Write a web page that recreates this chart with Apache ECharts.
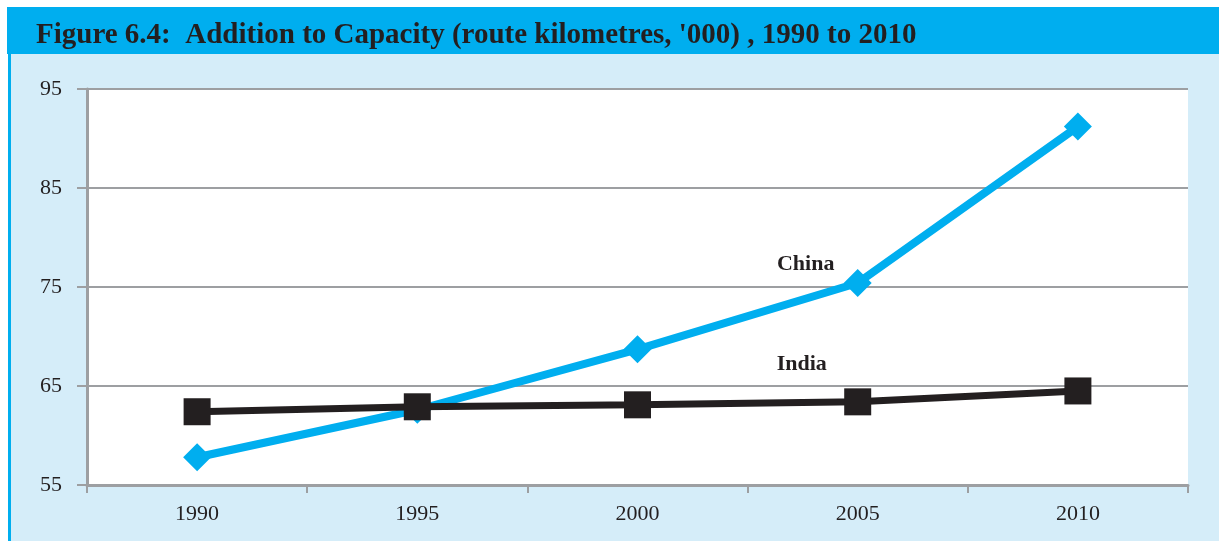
<!DOCTYPE html>
<html>
<head>
<meta charset="utf-8">
<script src="https://cdn.jsdelivr.net/npm/echarts@6/dist/echarts.min.js"></script>
<style>
  html, body { margin: 0; padding: 0; background: #ffffff; }
  #chart { width: 1219px; height: 541px; }
</style>
</head>
<body>
<div id="chart"></div>
<script>
// Route kilometres added ('000), 1990 to 2010
const years = ['1990', '1995', '2000', '2005', '2010'];
const china = [57.8, 62.6, 68.7, 75.4, 91.2];
const india = [62.4, 62.9, 63.1, 63.4, 64.5];
const yTicks = { min: 55, max: 95, interval: 10 };
const titleText = "Figure 6.4:  Addition to Capacity (route kilometres, '000) , 1990 to 2010";

const serif = '"Liberation Serif", "Times New Roman", serif';
const ink = '#231f20';
const gridGray = '#9d9fa2';

const chart = echarts.init(document.getElementById('chart'), null, { renderer: 'canvas' });

chart.setOption({
  animation: false,
  backgroundColor: '#ffffff',
  graphic: [
    // light blue panel
    { type: 'rect', z: -10, shape: { x: 8, y: 54, width: 1211, height: 487 }, style: { fill: '#d5edf9' } },
    // left border strip
    { type: 'rect', z: -9, shape: { x: 8, y: 54, width: 3, height: 487 }, style: { fill: '#00aeef' } },
    // heading bar
    { type: 'rect', z: -9, shape: { x: 7, y: 7, width: 1212, height: 47 }, style: { fill: '#00aeef' } },
    // plot background
    { type: 'rect', z: -8, shape: { x: 87, y: 89, width: 1101, height: 396 }, style: { fill: '#ffffff' } }
  ],
  title: {
    text: titleText,
    left: 31,
    top: 16,
    textStyle: { fontFamily: serif, fontWeight: 'bold', fontSize: 29, color: ink }
  },
  grid: { left: 87, right: 31, top: 89, bottom: 56, containLabel: false },
  xAxis: {
    type: 'category',
    data: years,
    boundaryGap: true,
    axisLine: { lineStyle: { color: gridGray, width: 3 } },
    axisTick: { show: true, alignWithLabel: false, length: 8, lineStyle: { color: gridGray, width: 2 } },
    axisLabel: { fontFamily: serif, fontSize: 22, color: ink, margin: 18 },
    splitLine: { show: false }
  },
  yAxis: {
    type: 'value',
    min: yTicks.min,
    max: yTicks.max,
    interval: yTicks.interval,
    axisLine: { show: true, lineStyle: { color: gridGray, width: 3 } },
    axisTick: { show: true, length: 10, lineStyle: { color: gridGray, width: 2 } },
    axisLabel: { fontFamily: serif, fontSize: 22, color: ink, margin: 25, padding: [5, 0, 0, 0] },
    splitLine: { show: true, lineStyle: { color: gridGray, width: 2 } }
  },
  series: [
    {
      name: 'India',
      type: 'line',
      data: india,
      symbol: 'rect',
      symbolSize: 27,
      lineStyle: { color: ink, width: 7 },
      itemStyle: { color: ink },
      z: 3,
      markPoint: {
        symbol: 'circle',
        symbolSize: 0,
        data: [{ coord: ['2005', 67.2] }],
        label: {
          show: true,
          formatter: 'India',
          offset: [-56, 0],
          fontFamily: serif, fontWeight: 'bold', fontSize: 22, color: ink
        }
      }
    },
    {
      name: 'China',
      type: 'line',
      data: china,
      symbol: 'diamond',
      symbolSize: 28,
      lineStyle: { color: '#00aeef', width: 8 },
      itemStyle: { color: '#00aeef' },
      z: 2,
      markPoint: {
        symbol: 'circle',
        symbolSize: 0,
        data: [{ coord: ['2005', 77.3] }],
        label: {
          show: true,
          formatter: 'China',
          offset: [-52, 0],
          fontFamily: serif, fontWeight: 'bold', fontSize: 22, color: ink
        }
      }
    }
  ]
});
</script>
</body>
</html>
